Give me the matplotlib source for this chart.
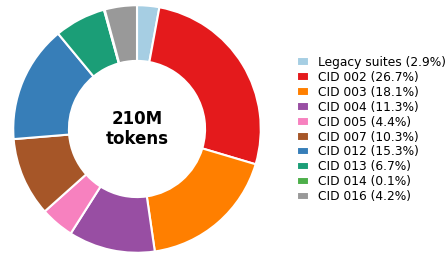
import matplotlib
matplotlib.use("Agg")
import matplotlib.pyplot as plt

labels = ["Legacy suites", "CID 002", "CID 003", "CID 004", "CID 005",
          "CID 007", "CID 012", "CID 013", "CID 014", "CID 016"]
shares = [2.9, 26.7, 18.1, 11.3, 4.4, 10.3, 15.3, 6.7, 0.1, 4.2]
colors = ["#a6cee3", "#e41a1c", "#ff7f00", "#984ea3", "#f781bf",
          "#a65628", "#377eb8", "#1b9e77", "#4daf4a", "#999999"]
center_text = "210M\ntokens"

fig = plt.figure(figsize=(4.47, 2.54), dpi=100)
ax = fig.add_axes([12/447, 0.0, 250/447, 250/254])
wedges, _ = ax.pie(shares, colors=colors, startangle=90, counterclock=False,
                   wedgeprops=dict(width=0.45, edgecolor="white", linewidth=1.5))
ax.set_aspect("equal")
ax.set_xlim(-1.01, 1.01)
ax.set_ylim(-1.01, 1.01)
ax.text(0, 0, center_text, ha="center", va="center", fontsize=12,
        fontweight="bold", linespacing=1.1)

leg_labels = [f"{l} ({s}%)" for l, s in zip(labels, shares)]
fig.legend(wedges, leg_labels, loc="center left", bbox_to_anchor=(286/447, 0.49),
           frameon=False, fontsize=8.8, handlelength=1.0, handleheight=0.7,
           labelspacing=0.16, handletextpad=0.75)
fig.savefig("out.png", dpi=100)
